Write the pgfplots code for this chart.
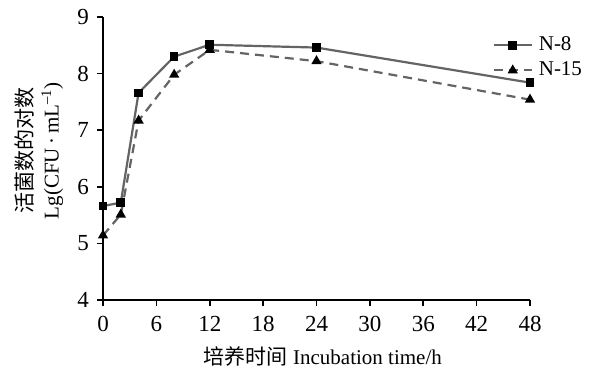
\documentclass[border=0pt]{standalone}
\usepackage{fontspec}
\setmainfont{Liberation Serif}
\newfontfamily\cjk{Noto Sans CJK SC}
\usepackage{pgfplots}
\pgfplotsset{compat=1.18}
\definecolor{lg}{RGB}{100,100,100}
\begin{document}
\fontsize{21}{24}\selectfont
\begin{tikzpicture}
\useasboundingbox (0,0) rectangle (593pt,370pt);
\begin{axis}[
  at={(103pt,70pt)}, anchor=south west,
  scale only axis, width=427pt, height=283pt,
  xmin=0, xmax=48, ymin=4, ymax=9,
  axis x line*=bottom, axis y line*=left,
  axis line style={line width=1.6pt, -, black},
  xtick={0,6,...,48}, ytick={4,...,9},
  tick style={line width=1.6pt, black},
  tick align=outside, major tick length=6pt,
  tick label style={font=\fontsize{23}{24}\selectfont},
  /pgf/number format/assume math mode=true,
  xticklabel style={yshift=-3pt},
  yticklabel style={xshift=-1pt},
  xlabel={{\cjk 培养时间} Incubation time/h},
  xlabel style={at={(axis description cs:0.515,-0.200)}, anchor=center, font=\fontsize{21}{24}\selectfont},
  ylabel={{\cjk 活菌数的对数}\\Lg(CFU\,·\,mL\textsuperscript{–1})},
  ylabel style={at={(axis description cs:-0.150,0.527)}, anchor=center, align=center, font=\fontsize{21}{26}\selectfont},
  legend style={draw=none, fill=none, at={(0.905,0.945)}, anchor=north west,
    font=\fontsize{21}{24}\selectfont, row sep=4pt, nodes={inner xsep=6pt}},
  legend cell align=left,
  legend image code/.code={\draw[mark repeat=2,mark phase=2,#1] plot coordinates {(0pt,0pt) (19pt,0pt) (38pt,0pt)};},
  clip=false,
]
\addplot[color=lg, line width=2.2pt, mark=square*, mark size=3.2pt, mark options={solid, fill=black, draw=black}]
  coordinates {(0,5.66) (2,5.72) (4,7.66) (8,8.30) (12,8.51) (24,8.46) (48,7.84)};
\addlegendentry{N-8}
\addplot[color=lg, line width=2.2pt, dash pattern=on 9pt off 6pt, mark=triangle*, mark size=3.8pt, mark options={solid, fill=black, draw=black}]
  coordinates {(0,5.14) (2,5.51) (4,7.17) (8,7.98) (12,8.42) (24,8.22) (48,7.54)};
\addlegendentry{N-15}
\end{axis}
\end{tikzpicture}
\end{document}
